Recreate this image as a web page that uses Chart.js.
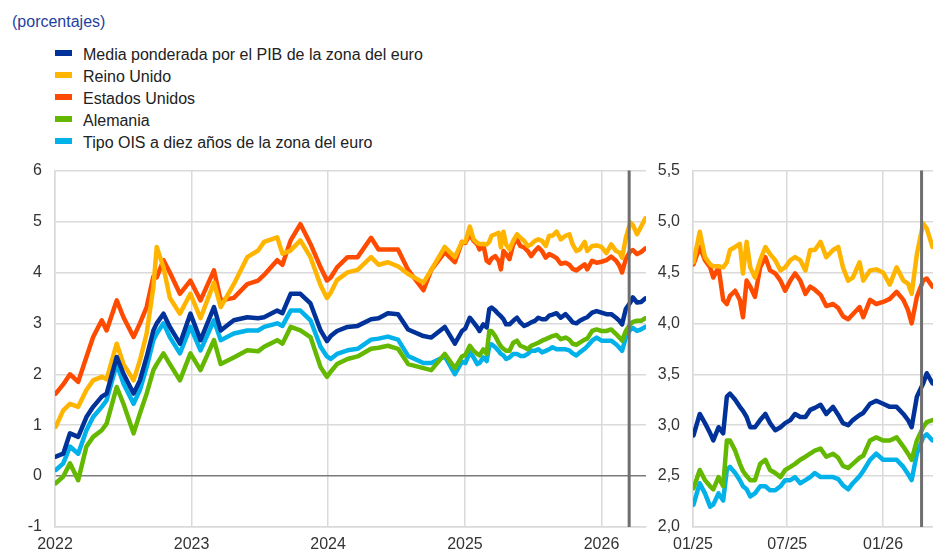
<!DOCTYPE html>
<html><head><meta charset="utf-8">
<script src="https://cdn.jsdelivr.net/npm/chart.js@4.4.1/dist/chart.umd.min.js"></script>
<style>
html,body{margin:0;padding:0;width:933px;height:556px;overflow:hidden;background:#fff;font-family:"Liberation Sans",Arial,sans-serif;}
#title{position:absolute;left:12px;top:13px;font-size:16px;color:#1f3f9f;line-height:18px;}
#legend{position:absolute;left:55px;top:44px;}
.item{height:22px;line-height:22px;font-size:16px;color:#222;white-space:nowrap;}
.sw{display:inline-block;width:17px;height:6px;vertical-align:middle;margin-right:11px;position:relative;top:-3px;}
canvas{position:absolute;}
</style></head>
<body>
<div id="title">(porcentajes)</div>
<div id="legend"></div>
<canvas id="left" width="660" height="408" style="left:0;top:148px;width:660px;height:408px"></canvas>
<canvas id="right" width="330" height="408" style="left:630px;top:148px;width:330px;height:408px"></canvas>
<script>
// ---------- DATA ----------
const seriesNames = ['Media ponderada por el PIB de la zona del euro','Reino Unido','Estados Unidos','Alemania','Tipo OIS a diez años de la zona del euro'];
const seriesColors = ['#003299','#FFB400','#FF4B00','#65B800','#00B1EA'];

// 2022-2024
const histDates = ['2022-01-03','2022-01-23','2022-02-10','2022-03-04','2022-03-26','2022-04-13','2022-05-06','2022-05-19','2022-06-15','2022-07-03','2022-07-30','2022-08-16','2022-09-03','2022-09-21','2022-09-30','2022-10-18','2022-11-04','2022-12-01','2022-12-29',
'2023-01-25','2023-03-02','2023-03-20','2023-04-24','2023-05-30','2023-06-28','2023-07-14','2023-08-18','2023-09-01','2023-09-23','2023-10-19','2023-11-15','2023-12-12','2023-12-29',
'2024-01-08','2024-01-25','2024-02-22','2024-03-20','2024-04-25','2024-05-15','2024-06-09','2024-07-06','2024-08-02','2024-09-12','2024-10-03','2024-11-08','2024-12-05','2024-12-24'];
const histEA = [0.38,0.44,0.84,0.77,1.16,1.36,1.56,1.62,2.34,2.01,1.62,1.88,2.34,2.86,3.0,3.19,2.93,2.6,3.19,
2.67,3.32,2.86,3.06,3.12,3.1,3.12,3.25,3.2,3.58,3.58,3.39,2.86,2.65,
2.75,2.85,2.93,2.95,3.08,3.1,3.2,3.18,2.88,2.75,2.72,2.93,2.6,2.85];
const histUK = [0.97,1.29,1.42,1.36,1.69,1.88,1.95,1.9,2.6,2.2,1.88,2.27,2.8,3.71,4.5,4.1,3.5,3.19,3.58,
3.1,3.8,3.32,3.77,4.3,4.43,4.6,4.69,4.37,4.43,4.63,4.3,3.75,3.5,
3.6,3.85,4.0,4.05,4.3,4.15,4.2,4.12,3.97,3.8,4.05,4.5,4.3,4.6];
const histUS = [1.62,1.8,2.0,1.85,2.34,2.73,3.06,2.86,3.45,3.12,2.73,3.0,3.32,3.92,3.9,4.24,4.0,3.58,3.84,
3.45,4.04,3.45,3.5,3.77,3.84,3.95,4.24,4.15,4.63,4.95,4.56,4.1,3.84,
3.9,4.1,4.3,4.3,4.68,4.45,4.45,4.45,4.05,3.65,4.05,4.4,4.2,4.6];
const histDE = [-0.14,-0.01,0.25,-0.08,0.58,0.77,0.9,1.03,1.75,1.42,0.84,1.23,1.62,2.08,2.2,2.41,2.2,1.88,2.41,
2.08,2.67,2.2,2.33,2.47,2.45,2.54,2.67,2.6,2.93,2.86,2.73,2.14,1.95,
2.05,2.2,2.3,2.35,2.5,2.52,2.56,2.5,2.2,2.12,2.08,2.4,2.12,2.35];
const histOIS = [0.12,0.25,0.58,0.44,0.9,1.16,1.36,1.49,2.2,1.82,1.42,1.69,2.14,2.67,2.8,3.0,2.73,2.41,2.93,
2.47,3.06,2.67,2.8,2.86,2.86,2.93,3.0,2.95,3.25,3.25,3.06,2.54,2.35,
2.3,2.4,2.47,2.5,2.68,2.7,2.74,2.68,2.36,2.22,2.22,2.35,2.0,2.25];

// 2025-2026
const recDates = ['2025-01-02','2025-01-14','2025-01-24','2025-02-03','2025-02-09','2025-02-19','2025-02-28','2025-03-07','2025-03-13','2025-03-23',
'2025-04-01','2025-04-07','2025-04-14','2025-04-21','2025-04-30','2025-05-10','2025-05-20','2025-05-29','2025-06-08','2025-06-18',
'2025-06-27','2025-07-07','2025-07-16','2025-07-26','2025-08-05','2025-08-14','2025-08-23','2025-09-03','2025-09-14','2025-09-27',
'2025-10-07','2025-10-16','2025-10-26','2025-11-04','2025-11-17','2025-11-24','2025-12-07','2025-12-19','2026-01-01','2026-01-14',
'2026-01-27','2026-02-09','2026-02-18','2026-02-25','2026-03-07','2026-03-19','2026-03-26','2026-04-06','2026-04-17','2026-04-28'];
const recEA = [2.9,3.11,3.02,2.92,2.85,2.98,2.92,3.28,3.31,3.25,
3.18,3.14,3.08,2.98,2.98,3.05,3.11,3.02,2.95,2.98,
3.02,3.05,3.11,3.08,3.08,3.15,3.17,3.2,3.11,3.18,
3.1,3.02,3.0,3.05,3.1,3.12,3.21,3.24,3.21,3.18,
3.18,3.11,3.05,2.98,3.28,3.41,3.51,3.41,3.42,3.49];
const recUK = [4.6,4.9,4.65,4.58,4.56,4.56,4.55,4.6,4.72,4.75,
4.78,4.49,4.8,4.55,4.45,4.62,4.75,4.68,4.62,4.52,
4.55,4.62,4.65,4.62,4.52,4.72,4.72,4.8,4.65,4.72,
4.75,4.55,4.42,4.45,4.6,4.42,4.52,4.53,4.5,4.38,
4.55,4.42,4.39,4.29,4.68,4.98,4.93,4.75,4.9,5.06];
const recUS = [4.58,4.75,4.62,4.55,4.45,4.55,4.23,4.19,4.27,4.32,
4.23,4.06,4.42,4.36,4.26,4.55,4.65,4.52,4.49,4.42,
4.32,4.42,4.49,4.42,4.29,4.36,4.33,4.28,4.17,4.19,
4.15,4.07,4.04,4.09,4.16,4.06,4.23,4.19,4.21,4.24,
4.31,4.23,4.13,4.0,4.26,4.42,4.44,4.36,4.4,4.47];
const recDE = [2.38,2.56,2.46,2.4,2.37,2.49,2.4,2.85,2.85,2.75,
2.62,2.55,2.5,2.46,2.46,2.62,2.66,2.56,2.53,2.49,
2.56,2.59,2.62,2.66,2.69,2.72,2.75,2.77,2.69,2.72,
2.68,2.6,2.58,2.62,2.68,2.7,2.85,2.88,2.85,2.85,
2.88,2.79,2.72,2.66,2.85,2.98,3.03,3.05,3.05,3.1];
const recOIS = [2.22,2.43,2.33,2.2,2.22,2.33,2.26,2.56,2.59,2.53,
2.46,2.4,2.37,2.3,2.33,2.4,2.4,2.36,2.36,2.4,
2.46,2.46,2.49,2.43,2.46,2.49,2.53,2.49,2.49,2.49,
2.47,2.41,2.37,2.43,2.5,2.55,2.66,2.72,2.66,2.66,
2.66,2.59,2.52,2.46,2.72,2.88,2.91,2.85,2.88,2.93];

// axes / ticks
const leftTickDates = ['2022-01-01','2023-01-01','2024-01-01','2025-01-01','2026-01-01'];
const leftTickLabels = ['2022','2023','2024','2025','2026'];
const rightTickDates = ['2025-01-01','2025-07-01','2026-01-01'];
const rightTickLabels = ['01/25','07/25','01/26'];
const leftRange = ['2022-01-01','2026-04-30'];
const rightRange = ['2025-01-01','2026-04-30'];
const eventDate = '2026-03-16';

// ---------- BUILD ----------
function day(s){const p=s.split('-').map(Number);return Date.UTC(p[0],p[1]-1,p[2])/86400000;}
function pts(dates, vals){return dates.map((d,i)=>({x:day(d),y:vals[i]}));}

const histSets=[histEA,histUK,histUS,histDE,histOIS];
const recSets=[recEA,recUK,recUS,recDE,recOIS];

// legend
const lg=document.getElementById('legend');
seriesNames.forEach((n,i)=>{
  const d=document.createElement('div');d.className='item';
  const s=document.createElement('span');s.className='sw';s.style.background=seriesColors[i];
  d.appendChild(s);d.appendChild(document.createTextNode(n));lg.appendChild(d);
});

const eventLine={id:'eventLine',afterDatasetsDraw(chart){
  const x=chart.scales.x.getPixelForValue(day(eventDate));
  const {top,bottom}=chart.chartArea;const c=chart.ctx;
  c.save();c.strokeStyle='#6e6e6e';c.lineWidth=3;c.beginPath();c.moveTo(x,top);c.lineTo(x,bottom);c.stroke();c.restore();
}};

const font={family:'"Liberation Sans", Arial, sans-serif',size:16};
const grid='#dadada';

function makeChart(id, datasets, xr, tDates, tLabels, ymin, ymax, ystep, yfmt, yWidth, padRight, zeroLine){
  return new Chart(document.getElementById(id),{
    type:'line',
    data:{datasets},
    options:{
      responsive:false,animation:false,devicePixelRatio:1,
      layout:{padding:{top:15,right:padRight,left:0,bottom:0}},
      plugins:{legend:{display:false},tooltip:{enabled:false}},
      elements:{point:{radius:0},line:{borderWidth:4.5,tension:0,borderJoinStyle:'round',borderCapStyle:'round'}},
      scales:{
        x:{type:'linear',min:day(xr[0]),max:day(xr[1]),
          afterBuildTicks:s=>{s.ticks=tDates.map(t=>({value:day(t)}));},
          afterFit:s=>{s.height=29;},
          ticks:{autoSkip:false,maxRotation:0,padding:8,color:'#333',font,
            callback:(v,i)=>tLabels[i]},
          grid:{color:grid,lineWidth:1.5,drawTicks:false},
          border:{display:true,color:grid,width:1.5}},
        y:{min:ymin,max:ymax,
          afterFit:s=>{s.width=yWidth;},
          ticks:{stepSize:ystep,padding:13,color:'#333',font,callback:yfmt},
          grid:{drawTicks:false,lineWidth:1.5,color:c=>(zeroLine&&c.tick&&c.tick.value===0)?'#7a7a7a':grid},
          border:{display:true,color:grid,width:1.5}}
      }
    },
    plugins:[eventLine]
  });
}

const leftDatasets=seriesNames.map((n,i)=>({label:n,borderColor:seriesColors[i],
  data:pts(histDates.concat(recDates),histSets[i].concat(recSets[i]))}));
const rightDatasets=seriesNames.map((n,i)=>({label:n,borderColor:seriesColors[i],
  data:pts(recDates,recSets[i])}));

makeChart('left',leftDatasets,leftRange,leftTickDates,leftTickLabels,-1,6,1,v=>String(v),55,14,true);
makeChart('right',rightDatasets,rightRange,rightTickDates,rightTickLabels,2,5.5,0.5,v=>v.toFixed(1).replace('.',','),63,15,false);
</script>
</body></html>
